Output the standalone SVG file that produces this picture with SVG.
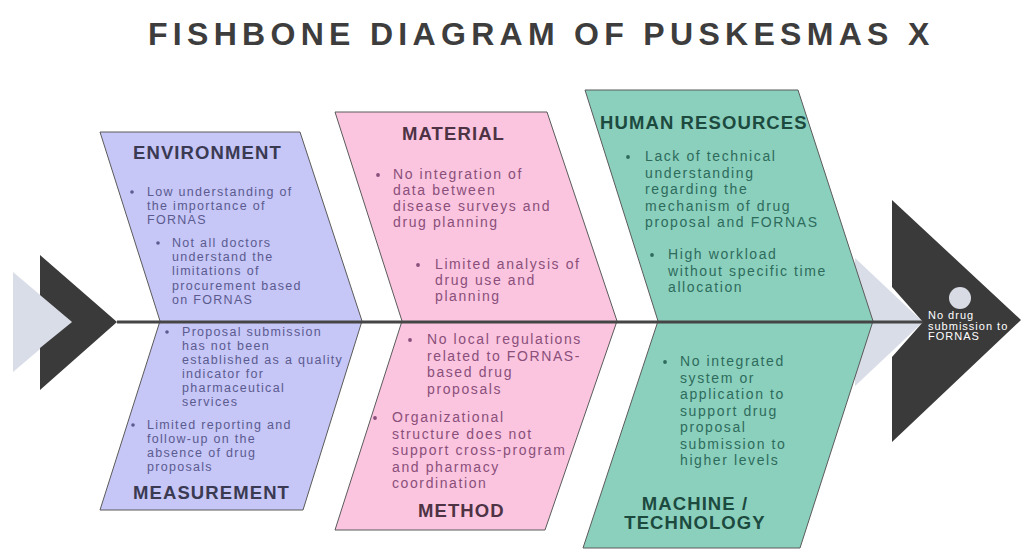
<svg xmlns="http://www.w3.org/2000/svg" width="1021" height="550" viewBox="0 0 1021 550">
<style>
.box{stroke:#5a5a5a;stroke-width:1}
.ttl{font-family:"Liberation Sans",Arial,sans-serif;font-weight:bold;font-size:18.5px;letter-spacing:1.1px}
.sm{font-family:"Liberation Sans",Arial,sans-serif;font-size:12.5px;letter-spacing:1.3px}
.md{font-family:"Liberation Sans",Arial,sans-serif;font-size:14px;letter-spacing:1.6px}
.env{fill:#5b5b8f}.mat{fill:#8a4f7a}.hr{fill:#2e6b5c}
</style>
<rect width="1021" height="550" fill="#ffffff"/>
<text x="148" y="45" font-family="Liberation Sans, Arial, sans-serif" font-weight="bold" font-size="32" letter-spacing="5.3" fill="#3d3d3d">FISHBONE DIAGRAM OF PUSKESMAS X</text>

<g id="tail">
<polygon points="13,272 72,322 13,372" fill="#d9dde8"/>
<polygon points="40,255 117,322 40,390 40,348 72,322 40,295" fill="#3a3a3a"/>
</g>

<g id="head">
<polygon points="855,258 923,322 855,386" fill="#d9dde8"/>
<polygon points="892,200 1021,320 892,442 892,357 923,322 892,287" fill="#3a3a3a"/>
<circle cx="960" cy="298" r="11" fill="#d8dbe3"/>
<text font-family="Liberation Sans, Arial, sans-serif" font-size="11" letter-spacing="1" fill="#ffffff"><tspan x="928" y="319">No drug</tspan><tspan x="928" y="329.5">submission to</tspan><tspan x="928" y="340">FORNAS</tspan></text>
</g>

<g id="environment-measurement">
<polygon class="box" points="100,132 300,132 362,321 303,510 100,510 160,321" fill="#c6c6f7"/>
<text class="ttl" x="133" y="158.5" fill="#3a3a52">ENVIRONMENT</text>
<g class="env">
<circle cx="132" cy="192" r="1.8"/>
<text class="sm"><tspan x="147" y="196">Low understanding of</tspan><tspan x="147" y="210">the importance of</tspan><tspan x="147" y="224">FORNAS</tspan></text>
<circle cx="158" cy="243" r="1.8"/>
<text class="sm"><tspan x="172" y="247">Not all doctors</tspan><tspan x="172" y="261.2">understand the</tspan><tspan x="172" y="275.4">limitations of</tspan><tspan x="172" y="289.6">procurement based</tspan><tspan x="172" y="303.8">on FORNAS</tspan></text>
<circle cx="167" cy="332" r="1.8"/>
<text class="sm"><tspan x="182" y="336">Proposal submission</tspan><tspan x="182" y="350">has not been</tspan><tspan x="182" y="364">established as a quality</tspan><tspan x="182" y="378">indicator for</tspan><tspan x="182" y="392">pharmaceutical</tspan><tspan x="182" y="406">services</tspan></text>
<circle cx="133" cy="425" r="1.8"/>
<text class="sm"><tspan x="147" y="429">Limited reporting and</tspan><tspan x="147" y="443">follow-up on the</tspan><tspan x="147" y="457">absence of drug</tspan><tspan x="147" y="471">proposals</tspan></text>
</g>
<text class="ttl" x="133" y="498.5" fill="#3a3a52" letter-spacing="0.9">MEASUREMENT</text>
</g>

<g id="material-method">
<polygon class="box" points="335,112 547,112 617,321 545,530 335,530 402,321" fill="#fbc5e0"/>
<text class="ttl" x="402" y="139.5" fill="#4d3344">MATERIAL</text>
<g class="mat">
<circle cx="378" cy="175" r="1.9"/>
<text class="md"><tspan x="393" y="179">No integration of</tspan><tspan x="393" y="195">data between</tspan><tspan x="393" y="211">disease surveys and</tspan><tspan x="393" y="227">drug planning</tspan></text>
<circle cx="418" cy="265" r="1.9"/>
<text class="md"><tspan x="435" y="269">Limited analysis of</tspan><tspan x="435" y="285">drug use and</tspan><tspan x="435" y="301">planning</tspan></text>
<circle cx="410" cy="340" r="1.9"/>
<text class="md"><tspan x="427" y="344">No local regulations</tspan><tspan x="427" y="360.5">related to FORNAS-</tspan><tspan x="427" y="377">based drug</tspan><tspan x="427" y="393.5">proposals</tspan></text>
<circle cx="375" cy="418" r="1.9"/>
<text class="md"><tspan x="392" y="422">Organizational</tspan><tspan x="392" y="438.5">structure does not</tspan><tspan x="392" y="455">support cross-program</tspan><tspan x="392" y="471.5">and pharmacy</tspan><tspan x="392" y="488">coordination</tspan></text>
</g>
<text class="ttl" x="418" y="516.5" fill="#4d3344">METHOD</text>
</g>

<g id="human-resources-machine">
<polygon class="box" points="585,90 798,90 873,321 800,548 583,548 658,321" fill="#8bd0bd"/>
<text class="ttl" x="600" y="128.5" fill="#1d4a3f" letter-spacing="0.9">HUMAN RESOURCES</text>
<g class="hr">
<circle cx="628" cy="157" r="1.9"/>
<text class="md"><tspan x="645" y="161">Lack of technical</tspan><tspan x="645" y="177.5">understanding</tspan><tspan x="645" y="194">regarding the</tspan><tspan x="645" y="210.5">mechanism of drug</tspan><tspan x="645" y="227">proposal and FORNAS</tspan></text>
<circle cx="652" cy="255" r="1.9"/>
<text class="md"><tspan x="668" y="259">High workload</tspan><tspan x="668" y="275.5">without specific time</tspan><tspan x="668" y="292">allocation</tspan></text>
<circle cx="665" cy="362" r="1.9"/>
<text class="md"><tspan x="680" y="366">No integrated</tspan><tspan x="680" y="382.5">system or</tspan><tspan x="680" y="399">application to</tspan><tspan x="680" y="415.5">support drug</tspan><tspan x="680" y="432">proposal</tspan><tspan x="680" y="448.5">submission to</tspan><tspan x="680" y="465">higher levels</tspan></text>
</g>
<text class="ttl" x="695" y="509.5" fill="#1d4a3f" text-anchor="middle" letter-spacing="0.6">MACHINE /</text>
<text class="ttl" x="695" y="528.5" fill="#1d4a3f" text-anchor="middle" letter-spacing="0.6">TECHNOLOGY</text>
</g>

<g id="connectors">
<line x1="117" y1="322" x2="923" y2="322" stroke="#454545" stroke-width="3"/>
</g>
</svg>
